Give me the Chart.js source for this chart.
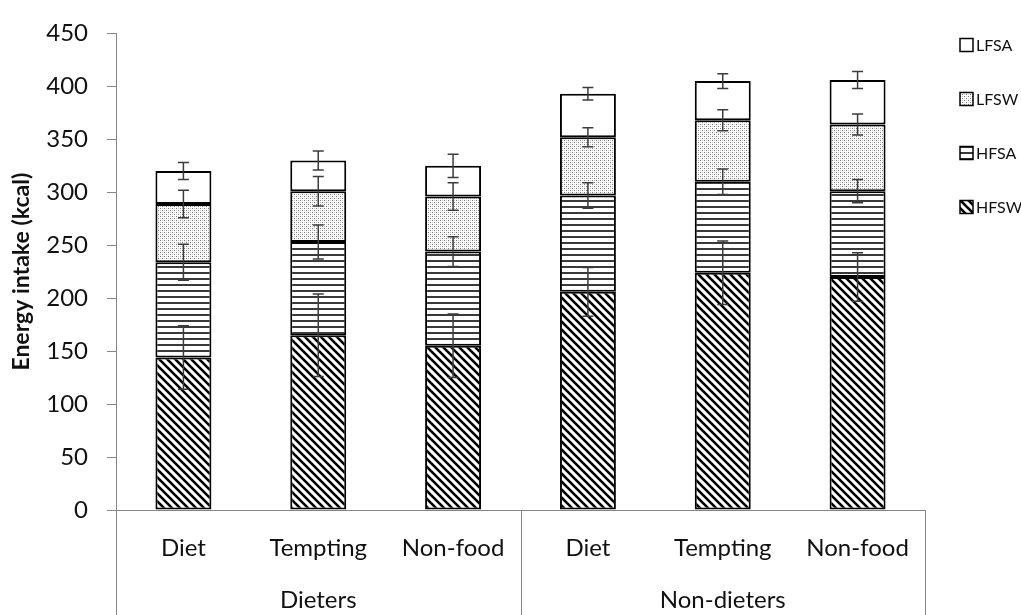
<!DOCTYPE html>
<html>
<head>
<meta charset="utf-8">
<script src="https://cdn.jsdelivr.net/npm/chart.js@4.4.1/dist/chart.umd.min.js"></script>
<style>
  html, body { margin: 0; padding: 0; background: #fff; }
  #wrap { width: 1021px; height: 615px; position: relative; }
</style>
</head>
<body>
<div id="wrap"><canvas id="c"></canvas></div>
<script>
// Categories and groups along the x axis
const categories = ['Diet', 'Tempting', 'Non-food', 'Diet', 'Tempting', 'Non-food'];
const groupLabels = ['Dieters', 'Non-dieters'];
const groupSize = 3;

// Series (stacked bottom to top), kcal
const seriesNames = ['HFSW', 'HFSA', 'LFSW', 'LFSA'];
const hfsw = [144, 165, 155, 206, 224, 220];
const hfsa = [90, 88, 89, 91, 86, 81];
const lfsw = [55, 48, 52, 55, 58, 63];
const lfsa = [31, 29, 29, 41, 37, 42];

// Error (±) for each segment, drawn at the top of that segment
const hfswErr = [30, 39, 30, 23, 30, 23];
const hfsaErr = [17, 16, 14, 12, 12, 11];
const lfswErr = [13, 14, 13, 9, 10, 10];
const lfsaErr = [8, 9, 11, 6, 7, 8];

// Y axis ticks
const yMin = 0, yMax = 450, yStep = 50;
const yTitle = 'Energy intake (kcal)';

const FONT = 'Lato, "Open Sans", sans-serif';
const AXIS_GRAY = '#868686';

function makePattern(kind) {
  const c = document.createElement('canvas');
  const g = c.getContext('2d');
  if (kind === 'diag') {
    const s = 8;
    c.width = s; c.height = s;
    g.fillStyle = '#fff'; g.fillRect(0, 0, s, s);
    g.strokeStyle = '#000'; g.lineWidth = 2.6;
    for (const off of [-s, 0, s]) {
      g.beginPath(); g.moveTo(-s, -s + off); g.lineTo(2 * s, 2 * s + off); g.stroke();
    }
  } else if (kind === 'horiz') {
    c.width = 6; c.height = 6;
    g.fillStyle = '#fff'; g.fillRect(0, 0, 6, 6);
    g.fillStyle = '#3a3a3a'; g.fillRect(0, 2, 6, 2);
  } else if (kind === 'dots') {
    c.width = 4; c.height = 4;
    g.fillStyle = '#fff'; g.fillRect(0, 0, 4, 4);
    g.fillStyle = '#777'; g.fillRect(0, 0, 1, 1); g.fillRect(2, 2, 1, 1);
    g.fillStyle = '#c8c8c8'; g.fillRect(2, 0, 1, 1); g.fillRect(0, 2, 1, 1);
  } else {
    c.width = 2; c.height = 2;
    g.fillStyle = '#fff'; g.fillRect(0, 0, 2, 2);
  }
  return g.createPattern(c, 'repeat');
}

const fills = [makePattern('diag'), makePattern('horiz'), makePattern('dots'), makePattern('blank')];
const seriesValues = [hfsw, hfsa, lfsw, lfsa];
const seriesErrors = [hfswErr, hfsaErr, lfswErr, lfsaErr];

const datasets = seriesNames.map((name, k) => ({
  label: name,
  data: seriesValues[k],
  errors: seriesErrors[k],
  backgroundColor: fills[k],
  borderColor: '#000',
  borderWidth: 2,
  borderSkipped: false,
  barPercentage: 0.415,
  categoryPercentage: 1.0
}));

// Error bars centred on each segment's top
const errorBars = {
  id: 'errorBars',
  afterDatasetsDraw(chart) {
    const ctx = chart.ctx;
    const ys = chart.scales.y;
    ctx.save();
    ctx.strokeStyle = '#3c3c3c';
    ctx.lineWidth = 1.5;
    chart.data.datasets.forEach((ds, d) => {
      const meta = chart.getDatasetMeta(d);
      meta.data.forEach((el, i) => {
        let cum = 0;
        for (let k = 0; k <= d; k++) cum += chart.data.datasets[k].data[i];
        const e = ds.errors[i];
        const yt = ys.getPixelForValue(cum + e);
        const yb = ys.getPixelForValue(cum - e);
        const x = el.x, cap = 5.5;
        ctx.beginPath();
        ctx.moveTo(x, yt); ctx.lineTo(x, yb);
        ctx.moveTo(x - cap, yt); ctx.lineTo(x + cap, yt);
        ctx.moveTo(x - cap, yb); ctx.lineTo(x + cap, yb);
        ctx.stroke();
      });
    });
    ctx.restore();
  }
};

// Group labels under the category labels, with divider lines
const groupAxis = {
  id: 'groupAxis',
  afterDraw(chart) {
    const ctx = chart.ctx;
    const xs = chart.scales.x;
    const area = chart.chartArea;
    const H = chart.height;
    const step = xs.getPixelForValue(1) - xs.getPixelForValue(0);
    ctx.save();
    ctx.strokeStyle = AXIS_GRAY;
    ctx.lineWidth = 1;
    const edges = [];
    for (let g = 0; g <= groupLabels.length; g++) {
      edges.push(xs.getPixelForValue(g * groupSize) - step / 2);
    }
    edges.forEach(x => {
      const px = Math.round(x) + 0.5;
      ctx.beginPath(); ctx.moveTo(px, area.bottom); ctx.lineTo(px, H); ctx.stroke();
    });
    ctx.fillStyle = '#111';
    ctx.font = '24px ' + FONT;
    ctx.textAlign = 'center';
    ctx.textBaseline = 'middle';
    groupLabels.forEach((lab, g) => {
      ctx.fillText(lab, (edges[g] + edges[g + 1]) / 2, 600);
    });
    ctx.restore();
  }
};

// Legend on the right, top series first
const sideLegend = {
  id: 'sideLegend',
  afterDraw(chart) {
    const ctx = chart.ctx;
    ctx.save();
    ctx.font = '16px ' + FONT;
    ctx.textBaseline = 'middle';
    ctx.textAlign = 'left';
    const order = [3, 2, 1, 0];
    order.forEach((k, j) => {
      const cy = 45 + j * 54;
      const bx = 960, bs = 13;
      ctx.fillStyle = fills[k];
      ctx.fillRect(bx, cy - bs / 2, bs, bs);
      ctx.strokeStyle = '#000';
      ctx.lineWidth = 1.5;
      ctx.strokeRect(bx, cy - bs / 2, bs, bs);
      ctx.fillStyle = '#111';
      ctx.fillText(seriesNames[k], 976, cy + 1);
    });
    ctx.restore();
  }
};

new Chart(document.getElementById('c'), {
  type: 'bar',
  data: { labels: categories, datasets },
  plugins: [errorBars, groupAxis, sideLegend],
  options: {
    responsive: true,
    maintainAspectRatio: false,
    animation: false,
    layout: { padding: { top: 24, right: 96, left: 0, bottom: 0 } },
    plugins: {
      legend: { display: false },
      tooltip: { enabled: false }
    },
    scales: {
      x: {
        stacked: true,
        offset: true,
        grid: { display: false, drawTicks: false },
        border: { display: true, color: AXIS_GRAY, width: 1 },
        ticks: { color: '#111', font: { family: FONT, size: 24 }, padding: 24, maxRotation: 0 },
        afterFit(scale) { scale.height = 105; }
      },
      y: {
        stacked: true,
        min: yMin, max: yMax,
        grid: { drawOnChartArea: false, drawTicks: true, tickLength: 9, color: AXIS_GRAY },
        border: { display: true, color: AXIS_GRAY, width: 1 },
        ticks: { stepSize: yStep, color: '#111', font: { family: FONT, size: 24 }, padding: 19 },
        title: {
          display: true, text: yTitle, color: '#111',
          font: { family: FONT, size: 23, weight: 'bold' },
          padding: { top: 8, bottom: 0 }
        },
        afterFit(scale) { scale.width = 116; }
      }
    }
  }
});
</script>
</body>
</html>
